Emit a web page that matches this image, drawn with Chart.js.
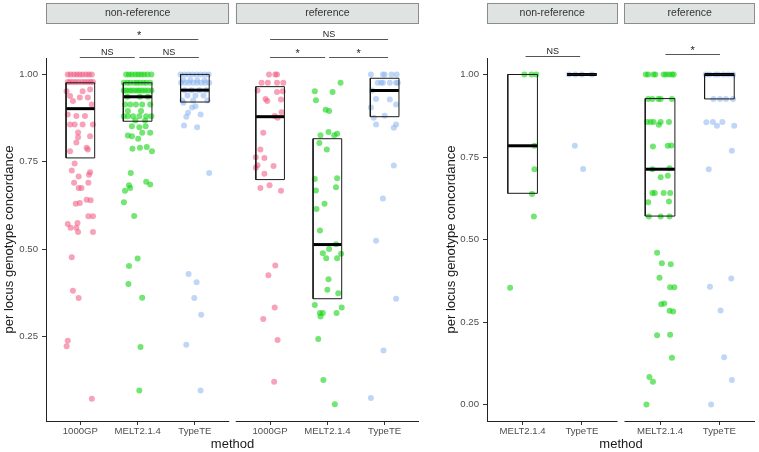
<!DOCTYPE html>
<html>
<head>
<meta charset="utf-8">
<script src="https://cdn.jsdelivr.net/npm/chart.js@4.4.1/dist/chart.umd.min.js"></script>
<style>
  body { margin: 0; background: #fff; width: 759px; height: 452px; position: relative; overflow: hidden; }
  #c1 { position: absolute; left: 0; top: 0; }
  #c2 { position: absolute; left: 442px; top: 0; }
</style>
</head>
<body>
<canvas id="c1" width="430" height="452"></canvas>
<canvas id="c2" width="317" height="452"></canvas>
<script>
// facets and methods
const facetNames = ["non-reference", "reference"];
const leftMethods = ["1000GP", "MELT2.1.4", "TypeTE"];
const rightMethods = ["MELT2.1.4", "TypeTE"];

const leftYTicks = [0.25, 0.5, 0.75, 1.0];
const leftYLabels = ["0.25", "0.50", "0.75", "1.00"];
const rightYTicks = [0, 0.25, 0.5, 0.75, 1.0];
const rightYLabels = ["0.00", "0.25", "0.50", "0.75", "1.00"];

// points: [jitter, concordance]
const nonref1000GP = [
  [-0.22,1],[-0.17,1],[-0.11,1],[-0.06,1],[-0.01,1],[0.04,1],[0.10,1],[0.15,1],[0.20,1],
  [-0.22,0.978],[-0.18,0.978],[-0.13,0.978],[-0.08,0.978],[-0.03,0.978],[0.03,0.978],[0.08,0.978],[0.13,0.978],[0.18,0.978],[0.22,0.978],
  [-0.24,0.952],[-0.18,0.938],[-0.13,0.924],[-0.01,0.934],[0.04,0.952],[0.17,0.957],[0.13,0.934],[0.20,0.914],
  [-0.07,0.881],[0.08,0.881],[-0.22,0.885],[-0.18,0.857],[-0.10,0.857],[0.04,0.857],[0.22,0.857],
  [-0.04,0.834],[-0.04,0.82],[-0.07,0.805],[0.11,0.79],[0.13,0.785],[-0.18,0.78],[0.17,0.823],
  [-0.10,0.745],[-0.15,0.725],[0.17,0.72],[-0.03,0.708],[0.15,0.713],[-0.11,0.69],[0.14,0.69],
  [-0.03,0.675],[0.02,0.675],[0.11,0.641],[0.18,0.64],[-0.08,0.63],[-0.01,0.632],[0.14,0.594],[0.22,0.594],
  [-0.22,0.572],[-0.05,0.575],[-0.17,0.561],[-0.07,0.561],[-0.04,0.549],[0.22,0.549],
  [-0.15,0.477],[-0.13,0.381],[-0.03,0.36],[-0.22,0.238],[-0.24,0.222],[0.20,0.072]
];
const nonrefMELT = [
  [-0.20,1],[-0.15,1],[-0.10,1],[-0.04,1],[0.01,1],[0.06,1],[0.11,1],[0.17,1],[0.24,1],
  [-0.24,0.976],[-0.18,0.976],[-0.13,0.976],[-0.06,0.976],[-0.01,0.976],[0.04,0.976],[0.10,0.976],[0.15,0.976],[0.22,0.976],
  [-0.24,0.954],[-0.20,0.954],[-0.15,0.954],[-0.11,0.954],[-0.06,0.954],[-0.01,0.954],[0.03,0.954],[0.08,0.954],[0.13,0.954],[0.18,0.954],[0.24,0.954],
  [-0.18,0.936],[0.04,0.936],[0.18,0.936],
  [-0.22,0.914],[-0.13,0.914],[-0.03,0.914],[0.08,0.914],[0.22,0.914],
  [-0.17,0.895],[0.06,0.895],
  [-0.24,0.88],[-0.17,0.88],[-0.08,0.88],[0.03,0.88],[0.15,0.88],[0.24,0.88],
  [-0.04,0.868],[0.13,0.868],
  [-0.10,0.852],[0.03,0.849],[0.14,0.852],[0.08,0.833],[0.22,0.833],[-0.17,0.825],[-0.10,0.823],[0.01,0.816],
  [-0.09,0.787],[0.04,0.79],[0.16,0.792],[0.25,0.78],
  [-0.12,0.718],[-0.15,0.683],[-0.13,0.675],[-0.22,0.667],[0.15,0.693],[0.22,0.685],[-0.24,0.634],[-0.06,0.595],
  [0.0,0.473],[-0.15,0.452],[-0.16,0.40],[0.08,0.361],[0.05,0.22],[0.03,0.095]
];
const nonrefTypeTE = [
  [-0.25,1],[-0.18,1],[-0.11,1],[-0.04,1],[0.03,1],[0.10,1],[0.17,1],[0.24,1],
  [-0.20,0.983],[-0.08,0.983],[0.04,0.983],[0.17,0.983],
  [-0.24,0.976],[-0.17,0.976],[-0.10,0.976],[-0.03,0.976],[0.04,0.976],[0.11,0.976],[0.18,0.976],[0.25,0.976],
  [-0.18,0.955],[-0.06,0.955],[0.08,0.955],[0.20,0.955],
  [-0.13,0.94],[0.01,0.94],[0.15,0.94],
  [-0.22,0.925],[-0.03,0.925],[0.22,0.925],
  [-0.20,0.919],[-0.05,0.905],[0.01,0.909],[-0.12,0.89],[0.10,0.885],[-0.15,0.879],[-0.19,0.854],[0.04,0.849],
  [0.25,0.718],[-0.11,0.429],[0.03,0.405],[-0.01,0.36],[0.11,0.312],[-0.15,0.226],[0.10,0.095]
];
const ref1000GP = [
  [-0.02,1],[0.09,1],[0.12,1],
  [-0.15,0.976],[-0.04,0.976],[0.12,0.976],[0.23,0.976],
  [-0.22,0.954],[0.12,0.95],[0.22,0.952],[-0.08,0.93],[-0.05,0.924],[0.19,0.928],
  [0.20,0.892],[0.08,0.881],[0.13,0.876],[-0.12,0.833],
  [-0.17,0.785],[-0.25,0.763],[-0.10,0.761],[-0.22,0.74],[-0.25,0.733],[0.06,0.738],[-0.10,0.716],
  [-0.17,0.675],[-0.01,0.683],[0.19,0.667],
  [0.09,0.453],[-0.03,0.425],[0.08,0.333],[-0.12,0.30],[0.13,0.24],[0.07,0.12]
];
const refMELT = [
  [0.23,0.976],[-0.22,0.952],[0.09,0.95],[-0.20,0.926],[-0.03,0.899],[0.03,0.895],
  [0.02,0.835],[-0.12,0.826],[0.12,0.826],[0.17,0.83],[-0.14,0.804],[-0.01,0.785],
  [-0.22,0.701],[0.17,0.703],[-0.20,0.668],[0.15,0.677],[-0.05,0.63],[-0.19,0.615],
  [-0.13,0.553],[0.15,0.514],[-0.08,0.488],[0.03,0.5],[-0.02,0.474],[0.17,0.474],[0.24,0.487],
  [0.02,0.414],[0.0,0.384],[0.19,0.374],[-0.22,0.34],[-0.13,0.317],[-0.08,0.317],[-0.12,0.307],
  [0.16,0.317],[0.25,0.333],[-0.16,0.243],[-0.07,0.125],[0.13,0.056]
];
const refTypeTE = [
  [-0.24,1],[-0.03,1],[0.0,1],[0.12,1],[0.21,1],
  [-0.12,0.976],[-0.06,0.976],[-0.03,0.976],[0.09,0.976],[0.20,0.976],[0.23,0.976],
  [-0.22,0.954],[-0.15,0.93],[0.09,0.928],[0.20,0.914],[-0.24,0.905],[0.0,0.882],[-0.19,0.876],
  [-0.15,0.857],[0.20,0.857],[0.16,0.847],[0.16,0.739],[-0.03,0.645],[-0.15,0.524],
  [0.20,0.358],[-0.02,0.21],[-0.24,0.074]
];
const nonrefMELTRight = [
  [0.03,1],[0.15,1],[0.23,1],[0.20,0.784],[0.20,0.713],[0.16,0.638],[0.19,0.57],[-0.21,0.354]
];
const nonrefTypeTERight = [
  [-0.22,1],[-0.11,1],[0.0,1],[0.17,1],[-0.12,0.784],[0.02,0.714]
];
const refMELTRight = [
  [-0.24,1],[-0.20,1],[-0.11,1],[-0.08,1],[0.06,1],[0.10,1],[0.15,1],[0.20,1],[0.23,1],
  [-0.20,0.926],[-0.13,0.926],[-0.03,0.926],[0.01,0.926],[0.20,0.926],
  [-0.22,0.856],[-0.16,0.856],[-0.11,0.856],[0.01,0.856],[0.15,0.856],[-0.02,0.848],
  [-0.12,0.782],[0.13,0.784],[0.19,0.785],[-0.13,0.713],[0.16,0.716],[0.01,0.689],[0.13,0.693],
  [-0.13,0.641],[-0.09,0.641],[0.06,0.641],[0.17,0.641],[-0.20,0.613],[0.15,0.615],
  [-0.19,0.57],[0.01,0.57],[0.16,0.57],
  [-0.05,0.46],[0.03,0.428],[0.18,0.425],[-0.01,0.384],[0.17,0.355],[0.24,0.355],
  [0.02,0.304],[0.07,0.306],[0.16,0.284],[0.22,0.282],[-0.05,0.21],[0.17,0.211],
  [0.20,0.142],[-0.18,0.083],[-0.12,0.069],[-0.23,0.0]
];
const refTypeTERight = [
  [-0.23,1],[-0.17,1],[-0.07,1],[-0.02,1],[0.07,1],[0.15,1],[0.23,1],
  [-0.10,0.926],[0.01,0.926],[0.11,0.926],[0.23,0.926],
  [-0.22,0.855],[-0.11,0.856],[-0.04,0.845],[0.05,0.856],[0.25,0.845],
  [0.21,0.769],[-0.18,0.713],
  [-0.16,0.357],[0.20,0.382],[0.02,0.285],[0.08,0.143],[0.21,0.074],[-0.14,0.0]
];

// boxes: [q1, median, q3]
const leftBoxes = [
  [[0.761, 0.902, 0.976], [0.866, 0.936, 0.976], [0.921, 0.955, 1.0]],
  [[0.699, 0.879, 0.965], [0.358, 0.513, 0.816], [0.879, 0.954, 0.989]]
];
const rightBoxes = [
  [[0.64, 0.784, 1.0], [1.0, 1.0, 1.0]],
  [[0.571, 0.713, 0.927], [0.926, 1.0, 1.0]]
];

// significance brackets
const leftBracketFacet = [0, 0, 0, 1, 1, 1];
const leftBracketFrom = [0.99, 0.99, 2.03, 1.0, 1.0, 2.03];
const leftBracketTo = [3.06, 1.95, 3.07, 3.06, 1.96, 3.06];
const leftBracketY = [1.100, 1.049, 1.049, 1.100, 1.049, 1.049];
const leftBracketLabel = ["*", "NS", "NS", "NS", "*", "*"];

const rightBracketFacet = [0, 1];
const rightBracketFrom = [1.05, 1.09];
const rightBracketTo = [1.97, 2.01];
const rightBracketY = [1.057, 1.061];
const rightBracketLabel = ["NS", "*"];

const methodColors = {
  "1000GP": "rgba(240,85,125,0.55)",
  "MELT2.1.4": "rgba(20,212,20,0.6)",
  "TypeTE": "rgba(140,180,240,0.55)"
};
const FONT = "'Liberation Sans', Arial, Helvetica, sans-serif";

const facetDecor = {
  id: "facetDecor",
  afterDraw(chart, args, opts) {
    const { ctx, chartArea } = chart;
    const x = chart.scales.x, y = chart.scales.y;
    ctx.save();
    opts.ranges.forEach((r, f) => {
      const x0 = x.getPixelForValue(r[0]), x1 = x.getPixelForValue(r[1]);
      ctx.fillStyle = "#dfe3e2";
      ctx.fillRect(x0, 3, x1 - x0, 20);
      ctx.strokeStyle = "#8c8c8c";
      ctx.lineWidth = 1;
      ctx.strokeRect(Math.round(x0) + 0.5, 3.5, Math.round(x1 - x0) - 1, 20);
      ctx.fillStyle = "#333";
      ctx.font = "10.5px " + FONT;
      ctx.textAlign = "center";
      ctx.textBaseline = "middle";
      ctx.fillText(facetNames[f], (x0 + x1) / 2, 13.5);
      // bottom axis line of the facet
      ctx.strokeStyle = "#222";
      ctx.beginPath();
      ctx.moveTo(x0, chartArea.bottom + 0.5);
      ctx.lineTo(x1, chartArea.bottom + 0.5);
      ctx.stroke();
    });
    const b = opts.brackets;
    b.facet.forEach((f, i) => {
      const base = opts.ranges[f][0] - 0.4;
      const xa = x.getPixelForValue(base + b.from[i]);
      const xb = x.getPixelForValue(base + b.to[i]);
      const yy = Math.round(y.getPixelForValue(b.y[i])) + 0.5;
      ctx.strokeStyle = "#555";
      ctx.lineWidth = 1;
      ctx.beginPath();
      ctx.moveTo(xa, yy);
      ctx.lineTo(xb, yy);
      ctx.stroke();
      ctx.fillStyle = "#222";
      ctx.font = (b.label[i] === "*" ? "11px " : "9px ") + FONT;
      ctx.textAlign = "center";
      ctx.textBaseline = "alphabetic";
      ctx.fillText(b.label[i], (xa + xb) / 2, b.label[i] === "*" ? yy - 1 : yy - 3);
    });
    ctx.restore();
  }
};

function makeChart(id, methods, points, boxes, brackets, yTicks, yLabels, yMin, yMax, gap, padRight, yWidth) {
  const n = methods.length;
  const span = n + 0.2;
  const ranges = [0, 1].map(f => [0.4 + f * (span + gap), 0.4 + f * (span + gap) + span]);
  const xTicks = [];
  const datasets = [];
  ranges.forEach((r, f) => {
    methods.forEach((m, i) => {
      const cx = r[0] + 0.6 + i;
      xTicks.push(cx);
      datasets.push({
        data: points[f][i].map(p => ({ x: cx + p[0], y: p[1] })),
        backgroundColor: methodColors[m],
        borderWidth: 0,
        pointRadius: 3,
        order: 1
      });
      const [q1, med, q3] = boxes[f][i];
      datasets.push({
        data: [{ x: cx - 0.25, y: q1 }, { x: cx + 0.25, y: q1 }, { x: cx + 0.25, y: q3 }, { x: cx - 0.25, y: q3 }, { x: cx - 0.25, y: q1 }],
        showLine: true, borderColor: "#1a1a1a", borderWidth: 1, pointRadius: 0, fill: false, order: 0
      });
      datasets.push({
        data: [{ x: cx - 0.25, y: med }, { x: cx + 0.25, y: med }],
        showLine: true, borderColor: "#000", borderWidth: 3, pointRadius: 0, fill: false, order: 0
      });
    });
  });

  return new Chart(document.getElementById(id), {
    type: "scatter",
    data: { datasets },
    options: {
      responsive: false,
      animation: false,
      layout: { padding: { top: 58, right: padRight, left: 0, bottom: 0 } },
      plugins: {
        legend: { display: false },
        tooltip: { enabled: false },
        facetDecor: { ranges, brackets }
      },
      scales: {
        x: {
          type: "linear",
          min: ranges[0][0],
          max: ranges[1][1],
          afterBuildTicks: s => { s.ticks = xTicks.map(v => ({ value: v })); },
          afterFit: s => { s.height = 31; },
          border: { display: false },
          grid: { drawOnChartArea: false, drawTicks: true, tickLength: 4, color: "#333" },
          ticks: {
            font: { family: FONT, size: 9.6 }, color: "#4d4d4d", padding: 1,
            autoSkip: false, maxRotation: 0,
            callback: (v, i) => methods[i % n]
          },
          title: { display: true, text: "method", font: { family: FONT, size: 13 }, color: "#1a1a1a", padding: { top: 0, bottom: 0 } }
        },
        y: {
          min: yMin,
          max: yMax,
          afterBuildTicks: s => { s.ticks = yTicks.map(v => ({ value: v })); },
          afterFit: s => { s.width = yWidth; },
          border: { display: true, color: "#222", width: 1 },
          grid: { drawOnChartArea: false, drawTicks: true, tickLength: 4, color: "#333" },
          ticks: { font: { family: FONT, size: 9.6 }, color: "#4d4d4d", padding: 4, callback: (v, i) => yLabels[i] },
          title: { display: true, text: "per locus genotype concordance", font: { family: FONT, size: 13 }, color: "#1a1a1a", padding: { top: 2, bottom: 0 } }
        }
      }
    },
    plugins: [facetDecor]
  });
}

makeChart("c1", leftMethods,
  [[nonref1000GP, nonrefMELT, nonrefTypeTE], [ref1000GP, refMELT, refTypeTE]],
  leftBoxes,
  { facet: leftBracketFacet, from: leftBracketFrom, to: leftBracketTo, y: leftBracketY, label: leftBracketLabel },
  leftYTicks, leftYLabels, 0.008, 1.047, 0.114, 11, 46);

makeChart("c2", rightMethods,
  [[nonrefMELTRight, nonrefTypeTERight], [refMELTRight, refTypeTERight]],
  rightBoxes,
  { facet: rightBracketFacet, from: rightBracketFrom, to: rightBracketTo, y: rightBracketY, label: rightBracketLabel },
  rightYTicks, rightYLabels, -0.05, 1.05, 0.117, 2, 45);
</script>
</body>
</html>
